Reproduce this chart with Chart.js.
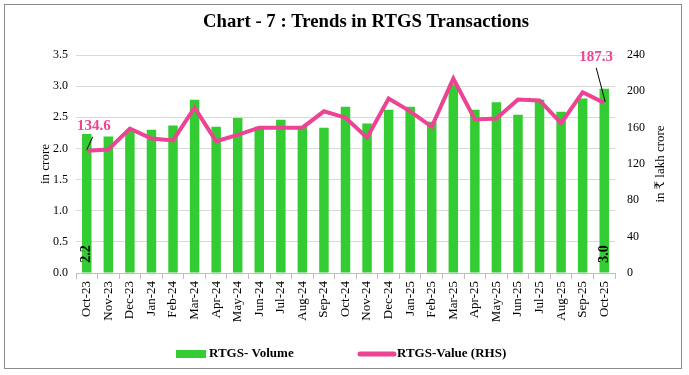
<!DOCTYPE html>
<html><head><meta charset="utf-8">
<script src="https://cdn.jsdelivr.net/npm/chart.js@4/dist/chart.umd.min.js"></script>
<style>html,body{margin:0;padding:0;background:#fff}#wrap{width:689px;height:375px;position:relative}</style>
</head><body><div id="wrap"><canvas id="c" width="689" height="375"></canvas></div>
<script>
const TITLE = 'Chart - 7 : Trends in RTGS Transactions';
const categories = ['Oct-23','Nov-23','Dec-23','Jan-24','Feb-24','Mar-24','Apr-24','May-24','Jun-24','Jul-24','Aug-24','Sep-24','Oct-24','Nov-24','Dec-24','Jan-25','Feb-25','Mar-25','Apr-25','May-25','Jun-25','Jul-25','Aug-25','Sep-25','Oct-25'];
const volume = [2.23,2.19,2.29,2.30,2.37,2.78,2.35,2.49,2.35,2.46,2.36,2.33,2.67,2.40,2.62,2.67,2.43,3.03,2.62,2.74,2.54,2.78,2.59,2.80,2.96];
const value = [134.6,136,159,148,146,182,145,152,160,160,160,178,171,149,192,178,161,214,169,170,191,190,165,199,187.3];
const leftTicks = [0,0.5,1,1.5,2,2.5,3,3.5];
const rightTicks = [0,40,80,120,160,200,240];
const volumeLabels = {0:'2.2', 24:'3.0'};
const valueLabels = {0:'134.6', 24:'187.3'};
const GREEN = '#33cc33', PINK = '#ee4392';
const SERIF = '"Liberation Serif", "DejaVu Serif", serif';

const deco = {
  id: 'deco',
  beforeDraw(chart) {
    const ctx = chart.ctx;
    ctx.save(); ctx.fillStyle = '#fff'; ctx.fillRect(0, 0, chart.width, chart.height); ctx.restore();
  },
  afterDraw(chart) {
    const ctx = chart.ctx, a = chart.chartArea;
    const x = chart.scales.x, y = chart.scales.y, y1 = chart.scales.y1;
    ctx.save();
    // frame
    ctx.strokeStyle = '#8c8c8c'; ctx.lineWidth = 1;
    ctx.strokeRect(4.5, 4.5, 677, 364);
    // title
    ctx.fillStyle = '#000';
    ctx.font = 'bold 18px ' + SERIF;
    let w = ctx.measureText(TITLE).width;
    const fs = 18 * 326 / w;
    ctx.font = 'bold ' + fs.toFixed(2) + 'px ' + SERIF;
    ctx.textAlign = 'center'; ctx.textBaseline = 'middle';
    ctx.fillText(TITLE, 366, 22);
    // axis titles
    ctx.font = '13px ' + SERIF;
    const cy = (a.top + a.bottom) / 2;
    ctx.save(); ctx.translate(46, cy); ctx.rotate(-Math.PI / 2); ctx.fillText('in crore', 0, 0); ctx.restore();
    ctx.save(); ctx.translate(661, cy); ctx.rotate(-Math.PI / 2); ctx.fillText('in ₹ lakh crore', 0, 0); ctx.restore();
    // value labels with leader lines
    ctx.font = 'bold 15px ' + SERIF;
    Object.keys(valueLabels).forEach(k => {
      const i = +k;
      const px = x.getPixelForValue(i), py = y1.getPixelForValue(value[i]);
      ctx.strokeStyle = '#000'; ctx.lineWidth = 1;
      ctx.beginPath();
      if (i === 0) {
        ctx.moveTo(px, py - 1); ctx.lineTo(px + 6, py - 14); ctx.stroke();
        ctx.fillStyle = PINK; ctx.fillText(valueLabels[k], px + 7, py - 25);
      } else {
        ctx.moveTo(px + 1, py - 1); ctx.lineTo(px - 8, py - 35); ctx.stroke();
        ctx.fillStyle = PINK; ctx.fillText(valueLabels[k], px - 8, py - 46);
      }
    });
    // volume labels (vertical inside bars)
    ctx.font = 'bold 14px ' + SERIF; ctx.fillStyle = '#000';
    Object.keys(volumeLabels).forEach(k => {
      const i = +k;
      const px = x.getPixelForValue(i), py = y.getPixelForValue(0) - 19;
      ctx.save(); ctx.translate(px, py); ctx.rotate(-Math.PI / 2); ctx.fillText(volumeLabels[k], 0, 0); ctx.restore();
    });
    // legend
    const ds = chart.data.datasets;
    ctx.font = 'bold 13px ' + SERIF; ctx.textAlign = 'left'; ctx.textBaseline = 'middle';
    const ly = 354;
    ctx.fillStyle = ds[0].backgroundColor; ctx.fillRect(176, ly - 4, 30, 8);
    ctx.fillStyle = '#000'; ctx.fillText(ds[0].label, 209, ly);
    ctx.strokeStyle = ds[1].borderColor; ctx.lineWidth = 5; ctx.lineCap = 'round';
    ctx.beginPath(); ctx.moveTo(360, ly); ctx.lineTo(394, ly); ctx.stroke();
    ctx.fillStyle = '#000'; ctx.fillText(ds[1].label, 397, ly);
    ctx.restore();
  }
};

new Chart(document.getElementById('c'), {
  data: {
    labels: categories,
    datasets: [
      { type: 'bar', label: 'RTGS- Volume', data: volume, backgroundColor: GREEN, yAxisID: 'y', order: 1,
        barPercentage: 0.44, categoryPercentage: 1 },
      { type: 'line', label: 'RTGS-Value (RHS)', data: value, borderColor: PINK, backgroundColor: PINK, borderWidth: 4,
        pointRadius: 0, tension: 0, yAxisID: 'y1', order: 0, borderJoinStyle: 'miter' }
    ]
  },
  options: {
    responsive: false, animation: false, devicePixelRatio: 1,
    layout: { padding: { left: 5, right: 5, top: 55, bottom: 44 } },
    plugins: { legend: { display: false }, tooltip: { enabled: false }, title: { display: false } },
    scales: {
      x: {
        offset: true,
        grid: { display: true, drawOnChartArea: false, drawTicks: true, tickLength: 6, color: '#bfbfbf', offset: true },
        border: { display: true, color: '#bfbfbf' },
        ticks: { minRotation: 90, maxRotation: 90, autoSkip: false, color: '#000', padding: 2, font: { family: SERIF, size: 13 } },
        afterFit: s => { s.height = 58; }
      },
      y: {
        position: 'left', min: 0, max: 3.5,
        afterBuildTicks: s => { s.ticks = leftTicks.map(v => ({ value: v })); },
        ticks: { callback: v => v.toFixed(1), color: '#000', padding: 8, font: { family: SERIF, size: 12 } },
        grid: { color: '#d9d9d9', drawTicks: false },
        border: { display: false },
        afterFit: s => { s.width = 71; }
      },
      y1: {
        position: 'right', min: 0, max: 240,
        afterBuildTicks: s => { s.ticks = rightTicks.map(v => ({ value: v })); },
        ticks: { color: '#000', padding: 12, font: { family: SERIF, size: 12 } },
        grid: { drawOnChartArea: false, drawTicks: false },
        border: { display: false },
        afterFit: s => { s.width = 69; }
      }
    }
  },
  plugins: [deco]
});
</script></body></html>
